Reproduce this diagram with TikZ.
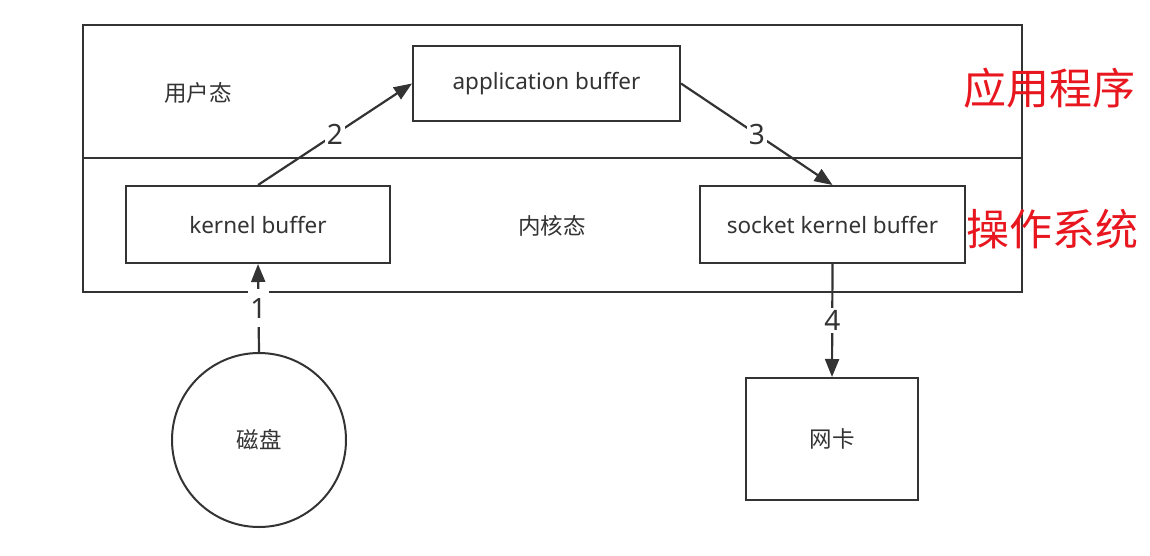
\documentclass[tikz,border=0pt]{standalone}
\usepackage{fontspec}
\setmainfont{Noto Sans}
\newfontfamily\cjk{Noto Sans CJK SC}
\usetikzlibrary{arrows.meta}
\definecolor{ln}{HTML}{333333}
\definecolor{redtxt}{HTML}{E8161E}
\tikzset{
  boxn/.style={draw=ln, line width=2pt, minimum width=#1, inner sep=0pt, text=ln, font=\fontsize{22.5}{26}\selectfont},
  conn/.style={draw=ln, line width=2.2pt, -{Triangle[length=18pt,width=14pt]}},
  num/.style={fill=white, text=ln, font=\fontsize{28}{30}\selectfont, inner sep=2pt},
  cjklab/.style={text=ln, font=\cjk\fontsize{22.5}{26}\selectfont},
  redlab/.style={text=redtxt, font=\cjk\fontsize{43}{46}\selectfont}
}
\begin{document}
\begin{tikzpicture}[x=1pt,y=-1pt]
\useasboundingbox (0,0) rectangle (1150,555);
% outer frame
\draw[ln, line width=2pt] (83,25) rectangle (1022,292);
\draw[ln, line width=2pt] (83,158) -- (1022,158);
% boxes
\node[boxn=267pt, minimum height=75pt] (app) at (546.5,83.5) {application buffer};
\node[boxn=264pt, minimum height=77pt] (kb) at (258,224.5) {kernel buffer};
\node[boxn=265pt, minimum height=77pt] (skb) at (832.5,224.5) {socket kernel buffer};
\node[draw=ln, line width=2pt, circle, minimum size=174pt, inner sep=0pt, cjklab] (disk) at (259,440) {磁盘};
\node[draw=ln, line width=2pt, minimum width=172pt, minimum height=122pt, inner sep=0pt, cjklab] (nic) at (832,439) {网卡};
% labels
\node[cjklab] (user) at (198,93) {用户态};
\node[cjklab] (kern) at (552,226) {内核态};
\node[redlab] (appl) at (1049,88) {应用程序};
\node[redlab] (os) at (1052,229) {操作系统};
% connectors
\draw[conn] (disk.north) -- node[num, inner ysep=9pt] {1} (kb.south);
\draw[conn] (kb.north) -- node[num, pos=0.5] {2} (app.west);
\draw[conn] (app.east) -- node[num, pos=0.5] {3} (skb.north);
\draw[conn] (skb.south) -- node[num] {4} (nic.north);
\end{tikzpicture}
\end{document}
